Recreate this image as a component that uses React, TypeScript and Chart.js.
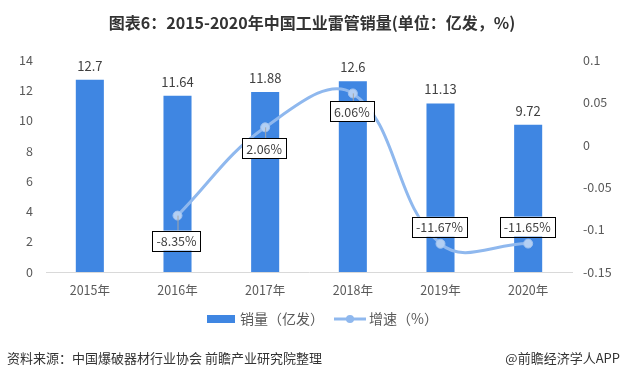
import React, { useEffect, useRef } from "react";
import { Chart, registerables } from "chart.js";

Chart.register(...registerables);

const categories = ["2015年", "2016年", "2017年", "2018年", "2019年", "2020年"];
const salesValues = [12.7, 11.64, 11.88, 12.6, 11.13, 9.72];
const growthValues: (number | null)[] = [null, -0.0835, 0.0206, 0.0606, -0.1167, -0.1165];
const growthLabels = ["", "-8.35%", "2.06%", "6.06%", "-11.67%", "-11.65%"];
const leftTicks = [0, 2, 4, 6, 8, 10, 12, 14];
const rightTicks = [-0.15, -0.1, -0.05, 0, 0.05, 0.1];

const TITLE = "图表6：2015-2020年中国工业雷管销量(单位：亿发，%)";
const SOURCE = "资料来源：中国爆破器材行业协会 前瞻产业研究院整理";
const BRAND = "@前瞻经济学人APP";
const LEGEND_BAR = "销量（亿发）";
const LEGEND_LINE = "增速（%）";

const FONT = '"Noto Sans CJK SC", "Noto Sans", sans-serif';
const BAR_COLOR = "#3f86e2";
const LINE_COLOR = "#8fb8ee";
const TEXT_COLOR = "#404040";
const TICK_COLOR = "#595959";

// label placement: offset of box centre from point (px)
const LABEL_OFFSETS = [0, 25, 21, 18, -17, -17];

const overlayPlugin = {
  id: "overlay",
  afterDatasetsDraw(chart: any) {
    const ctx = chart.ctx as CanvasRenderingContext2D;
    ctx.save();
    // bar value labels
    const barMeta = chart.getDatasetMeta(1);
    ctx.font = `13px ${FONT}`;
    ctx.fillStyle = TEXT_COLOR;
    ctx.textAlign = "center";
    ctx.textBaseline = "middle";
    barMeta.data.forEach((el: any, i: number) => {
      ctx.fillText(String(salesValues[i]), el.x, el.y - 14);
    });
    // line labels
    const lineMeta = chart.getDatasetMeta(0);
    ctx.font = `12.5px ${FONT}`;
    lineMeta.data.forEach((el: any, i: number) => {
      const v = growthValues[i];
      if (v === null || v === undefined) return;
      const text = growthLabels[i];
      const off = LABEL_OFFSETS[i];
      const w = ctx.measureText(text).width + 8;
      const h = 20;
      const cx = el.x - 1;
      const cy = el.y + off;
      // leader line
      if (off > 0) {
        ctx.strokeStyle = "#a6a6a6";
        ctx.lineWidth = 1;
        ctx.beginPath();
        ctx.moveTo(el.x + 0.5, el.y);
        ctx.lineTo(el.x + 0.5, cy - h / 2);
        ctx.stroke();
      }
      ctx.fillStyle = "#ffffff";
      ctx.fillRect(cx - w / 2, cy - h / 2, w, h);
      ctx.strokeStyle = "#000000";
      ctx.lineWidth = 1;
      ctx.strokeRect(Math.round(cx - w / 2) + 0.5, Math.round(cy - h / 2) + 0.5, Math.round(w), h);
      ctx.fillStyle = TEXT_COLOR;
      ctx.fillText(text, cx, cy + 0.5);
    });
    ctx.restore();
  },
  afterDraw(chart: any) {
    const ctx = chart.ctx as CanvasRenderingContext2D;
    ctx.save();
    // title
    ctx.font = `bold 16px ${FONT}`;
    ctx.fillStyle = "#333333";
    ctx.textAlign = "center";
    ctx.textBaseline = "middle";
    ctx.fillText(TITLE, 312, 23);
    // legend
    const ly = 319;
    ctx.fillStyle = BAR_COLOR;
    ctx.fillRect(207, ly - 4, 28, 8);
    ctx.font = `14px ${FONT}`;
    ctx.fillStyle = TICK_COLOR;
    ctx.textAlign = "left";
    ctx.fillText(LEGEND_BAR, 240, ly);
    ctx.strokeStyle = LINE_COLOR;
    ctx.lineWidth = 3;
    ctx.beginPath();
    ctx.moveTo(334, ly);
    ctx.lineTo(366, ly);
    ctx.stroke();
    ctx.fillStyle = LINE_COLOR;
    ctx.beginPath();
    ctx.arc(350, ly, 4, 0, Math.PI * 2);
    ctx.fill();
    ctx.fillStyle = TICK_COLOR;
    ctx.fillText(LEGEND_LINE, 369, ly);
    // footer
    ctx.font = `13px ${FONT}`;
    ctx.fillStyle = "#333333";
    ctx.fillText(SOURCE, 7, 358);
    ctx.textAlign = "right";
    ctx.fillText(BRAND, 620, 358);
    ctx.restore();
  },
};

export default function App() {
  const canvasRef = useRef<HTMLCanvasElement>(null);

  useEffect(() => {
    if (!canvasRef.current) return;
    const chart = new Chart(canvasRef.current, {
      type: "bar",
      data: {
        labels: categories,
        datasets: [
          {
            type: "line",
            label: LEGEND_LINE,
            data: growthValues,
            yAxisID: "y1",
            borderColor: LINE_COLOR,
            backgroundColor: "#a9c9f2",
            borderWidth: 3,
            tension: 0.4,
            pointRadius: 4.5,
            pointBorderColor: "#9ec1f0",
            pointBackgroundColor: "#b3cff3",
            pointBorderWidth: 1,
            order: 0,
          } as any,
          {
            type: "bar",
            label: LEGEND_BAR,
            data: salesValues,
            yAxisID: "y",
            backgroundColor: BAR_COLOR,
            barPercentage: 0.32,
            categoryPercentage: 1,
            order: 1,
          },
        ],
      },
      options: {
        animation: false,
        responsive: false,
        maintainAspectRatio: false,
        layout: { padding: { top: 60, bottom: 0, left: 0, right: 0 } },
        plugins: {
          legend: { display: false },
          title: { display: false },
          tooltip: { enabled: false },
        },
        scales: {
          x: {
            grid: { display: false, drawTicks: false },
            border: { display: true, color: "#d9d9d9", width: 1 },
            ticks: { font: { family: FONT, size: 12.5 }, color: TICK_COLOR, padding: 11 },
            afterFit(scale: any) {
              scale.height = 107;
            },
          },
          y: {
            position: "left",
            min: 0,
            max: 14,
            afterBuildTicks(scale: any) {
              scale.ticks = leftTicks.map((v) => ({ value: v }));
            },
            grid: { display: false, drawTicks: false },
            border: { display: false },
            ticks: { font: { family: FONT, size: 12.5 }, color: TICK_COLOR, padding: 13 },
            afterFit(scale: any) {
              scale.width = 46;
            },
          },
          y1: {
            position: "right",
            min: -0.15,
            max: 0.1,
            afterBuildTicks(scale: any) {
              scale.ticks = rightTicks.map((v) => ({ value: v }));
            },
            grid: { display: false, drawTicks: false },
            border: { display: false },
            ticks: {
              font: { family: FONT, size: 12.5 },
              color: TICK_COLOR,
              padding: 11,
              callback: (v: any) => String(Math.round(Number(v) * 100) / 100),
            },
            afterFit(scale: any) {
              scale.width = 50;
            },
          },
        },
      },
      plugins: [overlayPlugin],
    });
    return () => chart.destroy();
  }, []);

  return (
    <div style={{ position: "fixed", left: 0, top: 0, width: 622, height: 379, background: "#fff" }}>
      <canvas ref={canvasRef} width={622} height={379} style={{ width: 622, height: 379 }} />
    </div>
  );
}
